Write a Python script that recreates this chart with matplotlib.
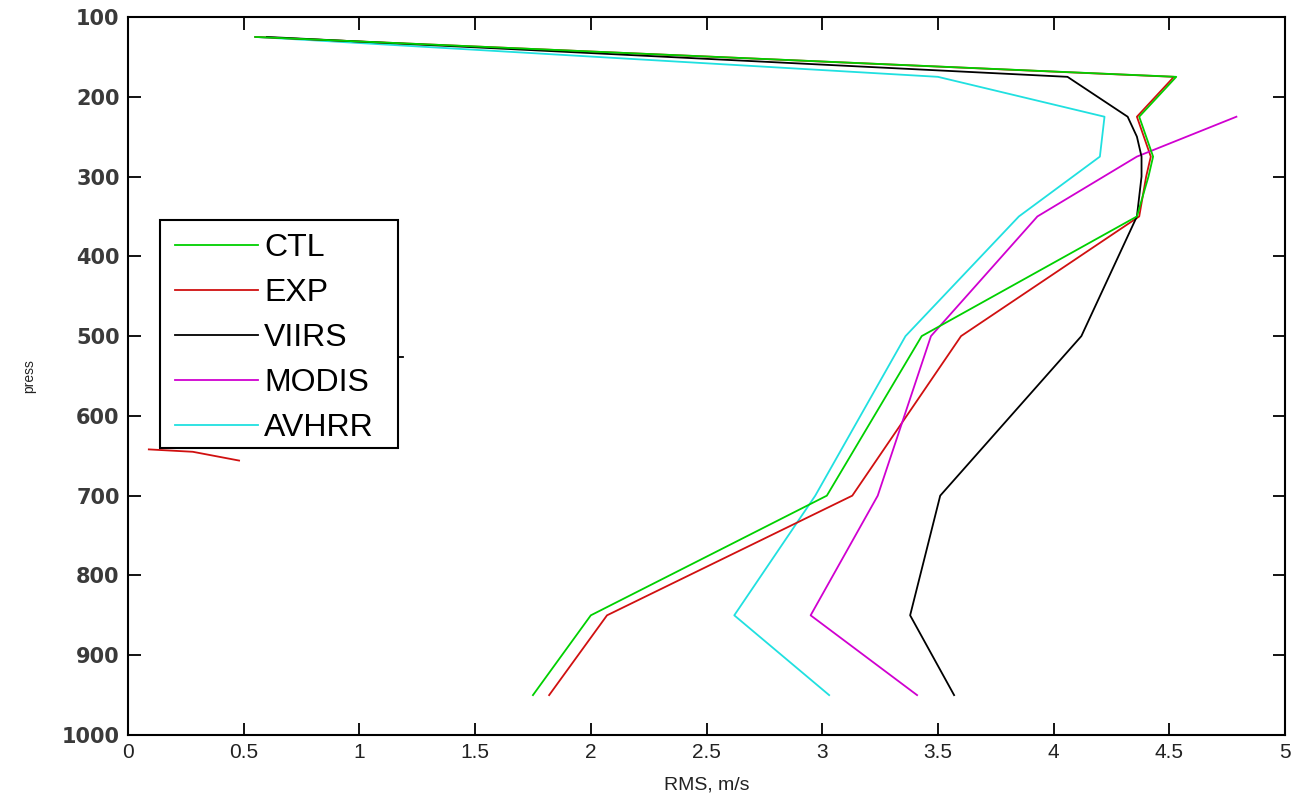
import matplotlib
matplotlib.use("Agg")
import matplotlib.pyplot as plt
from matplotlib.patches import Rectangle

# ---- data ----
ctl_p = [125, 175, 225, 250, 275, 300, 350, 500, 700, 850, 950]
ctl_x = [0.55, 4.53, 4.37, 4.40, 4.43, 4.41, 4.36, 3.43, 3.02, 2.00, 1.75]

exp_p = [125, 175, 225, 250, 275, 300, 350, 500, 700, 850, 950]
exp_x = [0.55, 4.52, 4.36, 4.39, 4.42, 4.40, 4.37, 3.60, 3.13, 2.07, 1.82]

viirs_p = [125, 175, 200, 225, 250, 275, 300, 350, 500, 700, 850, 950]
viirs_x = [0.60, 4.06, 4.19, 4.32, 4.36, 4.38, 4.38, 4.36, 4.12, 3.51, 3.38, 3.57]

modis_p = [225, 275, 350, 500, 700, 850, 950]
modis_x = [4.79, 4.36, 3.93, 3.47, 3.24, 2.95, 3.41]

avhrr_p = [125, 175, 225, 275, 350, 500, 700, 850, 950]
avhrr_x = [0.55, 3.50, 4.22, 4.20, 3.85, 3.36, 2.97, 2.62, 3.03]

# stray fragments visible around the legend box
stray_red_p = [642, 645, 656]
stray_red_x = [0.09, 0.28, 0.48]
stray_black_p = [526, 526]
stray_black_x = [1.00, 1.19]

labels = ["CTL", "EXP", "VIIRS", "MODIS", "AVHRR"]
colors = ["#00d000", "#d01010", "#000000", "#d000d0", "#20e0e0"]
zorders = [2.6, 2.2, 2.4, 2.3, 2.1]

xticks = [0, 0.5, 1, 1.5, 2, 2.5, 3, 3.5, 4, 4.5, 5]
xtick_labels = ["0", "0.5", "1", "1.5", "2", "2.5", "3", "3.5", "4", "4.5", "5"]
yticks = [100, 200, 300, 400, 500, 600, 700, 800, 900, 1000]
ytick_labels = [str(v) for v in yticks]

# ---- figure ----
plt.rcParams['font.family'] = ['Liberation Sans', 'DejaVu Sans']
fig = plt.figure(figsize=(12.94, 8.0), dpi=100)
ax = fig.add_axes([128/1294, 1-735/800, (1285-128)/1294, (735-17)/800])

series = [(ctl_x, ctl_p), (exp_x, exp_p), (viirs_x, viirs_p),
          (modis_x, modis_p), (avhrr_x, avhrr_p)]
handles = []
for (xs, ps), lab, col, z in zip(series, labels, colors, zorders):
    h, = ax.plot(xs, ps, color=col, lw=1.3, label=lab, zorder=z)
    handles.append(h)

ax.plot(stray_red_x, stray_red_p, color=colors[1], lw=1.3)
ax.plot(stray_black_x, stray_black_p, color="black", lw=1.3)

ax.set_xlim(0, 5)
ax.set_ylim(1000, 100)
ax.set_xticks(xticks)
ax.set_xticklabels(xtick_labels, fontsize=15, color="#222222")
ax.set_yticks(yticks)
ax.set_yticklabels(ytick_labels, fontsize=15, color="#3a3a3a",
                   family=['DejaVu Sans'], fontweight='bold')
ax.tick_params(direction="in", length=9, width=1.3, top=True, right=True,
               pad=6)
for s in ax.spines.values():
    s.set_linewidth(1.5)

ax.set_xlabel("RMS, m/s", fontsize=14, labelpad=10, color="#222222")
ax.set_ylabel("press", fontsize=10, labelpad=18, color="#222222")

# legend frame drawn as a box in axes-fraction coordinates
ax_w, ax_h = 1157.0, 718.0
x0 = (160 - 128) / ax_w
x1 = (398 - 128) / ax_w
y_top = 1 - (220 - 17) / ax_h
y_bot = 1 - (448 - 17) / ax_h
box = Rectangle((x0, y_bot), x1 - x0, y_top - y_bot, transform=ax.transAxes,
                facecolor="white", edgecolor="black", linewidth=1.5, zorder=4.5)
ax.add_patch(box)

leg = ax.legend(handles=handles, loc="upper left",
                bbox_to_anchor=(x0 + 2/ax_w, y_top),
                fontsize=23, frameon=False,
                handlelength=2.6, handletextpad=0.2,
                labelspacing=0.47, borderpad=0.4, borderaxespad=0)
leg.set_zorder(5)

fig.savefig("out.png", dpi=100)
